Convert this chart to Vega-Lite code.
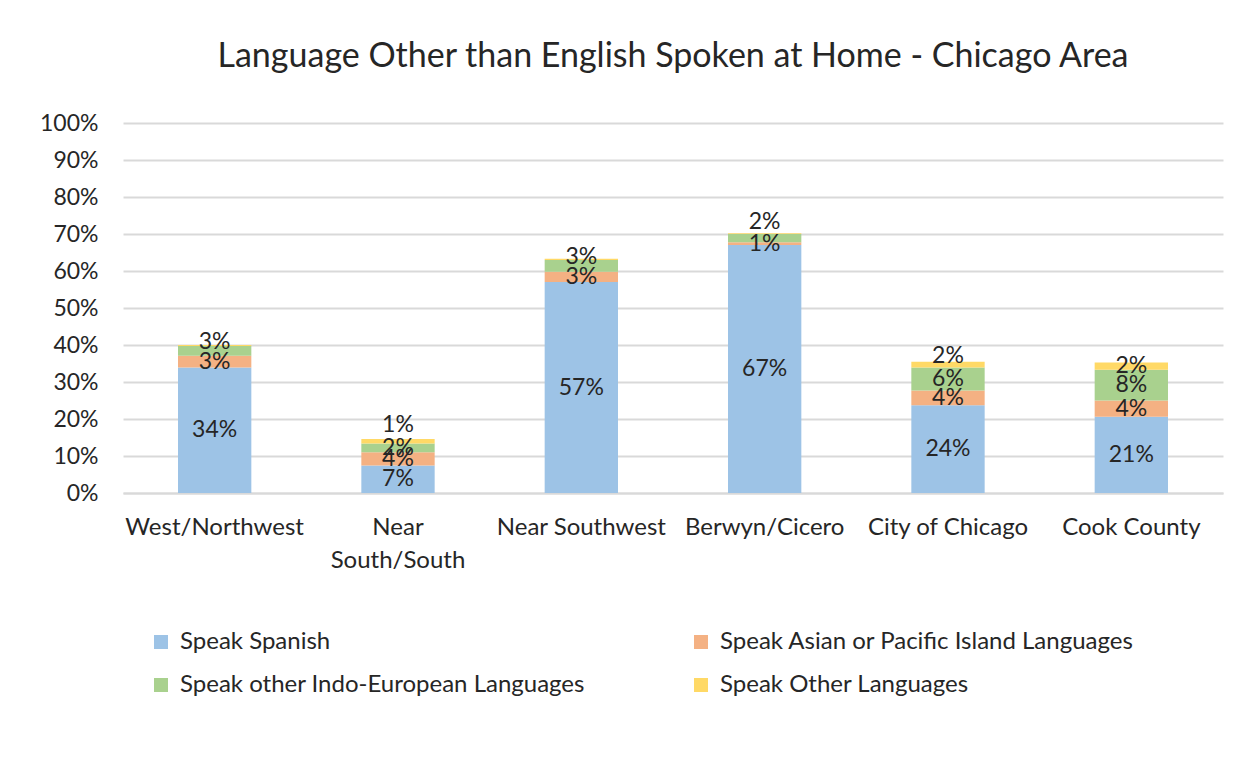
{
  "$schema": "https://vega.github.io/schema/vega-lite/v6.json",
  "width": 1100,
  "height": 370,
  "autosize": {"type": "none"},
  "padding": {"left": 123, "top": 123, "right": 21, "bottom": 271},
  "background": "white",
  "title": {
    "text": "Language Other than English Spoken at Home - Chicago Area",
    "font": "Lato",
    "fontSize": 34,
    "fontWeight": "normal",
    "color": "#262626",
    "anchor": "middle",
    "offset": 38
  },
  "data": {
    "values": [
      {"region": "West/Northwest", "series": "Speak Spanish", "k": 1, "value": 0.339},
      {"region": "West/Northwest", "series": "Speak Asian or Pacific Island Languages", "k": 2, "value": 0.032},
      {"region": "West/Northwest", "series": "Speak other Indo-European Languages", "k": 3, "value": 0.026},
      {"region": "West/Northwest", "series": "Speak Other Languages", "k": 4, "value": 0.003},
      {"region": "Near South/South", "series": "Speak Spanish", "k": 1, "value": 0.074},
      {"region": "Near South/South", "series": "Speak Asian or Pacific Island Languages", "k": 2, "value": 0.036},
      {"region": "Near South/South", "series": "Speak other Indo-European Languages", "k": 3, "value": 0.024},
      {"region": "Near South/South", "series": "Speak Other Languages", "k": 4, "value": 0.012},
      {"region": "Near Southwest", "series": "Speak Spanish", "k": 1, "value": 0.570},
      {"region": "Near Southwest", "series": "Speak Asian or Pacific Island Languages", "k": 2, "value": 0.028},
      {"region": "Near Southwest", "series": "Speak other Indo-European Languages", "k": 3, "value": 0.032},
      {"region": "Near Southwest", "series": "Speak Other Languages", "k": 4, "value": 0.003},
      {"region": "Berwyn/Cicero", "series": "Speak Spanish", "k": 1, "value": 0.670},
      {"region": "Berwyn/Cicero", "series": "Speak Asian or Pacific Island Languages", "k": 2, "value": 0.008},
      {"region": "Berwyn/Cicero", "series": "Speak other Indo-European Languages", "k": 3, "value": 0.022},
      {"region": "Berwyn/Cicero", "series": "Speak Other Languages", "k": 4, "value": 0.002},
      {"region": "City of Chicago", "series": "Speak Spanish", "k": 1, "value": 0.237},
      {"region": "City of Chicago", "series": "Speak Asian or Pacific Island Languages", "k": 2, "value": 0.040},
      {"region": "City of Chicago", "series": "Speak other Indo-European Languages", "k": 3, "value": 0.062},
      {"region": "City of Chicago", "series": "Speak Other Languages", "k": 4, "value": 0.016},
      {"region": "Cook County", "series": "Speak Spanish", "k": 1, "value": 0.206},
      {"region": "Cook County", "series": "Speak Asian or Pacific Island Languages", "k": 2, "value": 0.044},
      {"region": "Cook County", "series": "Speak other Indo-European Languages", "k": 3, "value": 0.083},
      {"region": "Cook County", "series": "Speak Other Languages", "k": 4, "value": 0.020}
    ]
  },
  "transform": [
    {"stack": "value", "groupby": ["region"], "sort": [{"field": "k", "order": "ascending"}], "as": ["v0", "v1"]},
    {"calculate": "(datum.v0 + datum.v1) / 2", "as": "mid"}
  ],
  "encoding": {
    "x": {
      "field": "region",
      "type": "nominal",
      "sort": null,
      "scale": {"paddingInner": 0.6, "paddingOuter": 0.3},
      "axis": {
        "title": null,
        "labelAngle": 0,
        "labelFont": "Lato",
        "labelFontSize": 24,
        "labelColor": "#262626",
        "labelPadding": 22,
        "labelLineHeight": 33,
        "labelBaseline": "top",
        "labelExpr": "datum.label == 'Near South/South' ? ['Near', 'South/South'] : datum.label",
        "ticks": false,
        "tickSize": 0,
        "domain": true,
        "domainColor": "#D9D9D9",
        "domainWidth": 2,
        "grid": false
      }
    },
    "y": {
      "field": "mid",
      "type": "quantitative",
      "scale": {"domain": [0, 1]},
      "axis": {
        "title": null,
        "values": [0, 0.1, 0.2, 0.3, 0.4, 0.5, 0.6, 0.7, 0.8, 0.9, 1],
        "format": ".0%",
        "labelOverlap": false,
        "labelSeparation": 0,
        "labelFont": "Lato",
        "labelFontSize": 23,
        "labelColor": "#262626",
        "labelPadding": 25,
        "ticks": false,
        "tickSize": 0,
        "domain": false,
        "grid": true,
        "gridColor": "#D9D9D9",
        "gridWidth": 2
      }
    },
    "text": {"field": "value", "type": "quantitative", "format": ".0%"}
  },
  "layer": [
    {
      "mark": {"type": "bar"},
      "encoding": {
        "y": {
          "field": "v0",
          "type": "quantitative",
          "scale": {"domain": [0, 1]},
          "axis": {
            "title": null,
            "values": [0, 0.1, 0.2, 0.3, 0.4, 0.5, 0.6, 0.7, 0.8, 0.9, 1],
            "format": ".0%",
            "labelOverlap": false,
            "labelSeparation": 0,
            "labelFont": "Lato",
            "labelFontSize": 23,
            "labelColor": "#262626",
            "labelPadding": 25,
            "ticks": false,
            "tickSize": 0,
            "domain": false,
            "grid": true,
            "gridColor": "#D9D9D9",
            "gridWidth": 2
          }
        },
        "y2": {"field": "v1"},
        "text": null,
        "color": {
          "field": "series",
          "type": "nominal",
          "sort": ["Speak Spanish", "Speak Asian or Pacific Island Languages", "Speak other Indo-European Languages", "Speak Other Languages"],
          "scale": {
            "domain": ["Speak Spanish", "Speak Asian or Pacific Island Languages", "Speak other Indo-European Languages", "Speak Other Languages"],
            "range": ["#9DC3E6", "#F4B183", "#A9D18E", "#FFD966"]
          },
          "legend": {
            "title": null,
            "orient": "none",
            "legendX": 26,
            "legendY": 507,
            "direction": "horizontal",
            "columns": 2,
            "columnPadding": 104,
            "rowPadding": 19,
            "symbolType": "square",
            "symbolSize": 196,
            "symbolStrokeWidth": 0,
            "symbolOpacity": 1,
            "labelFont": "Lato",
            "labelFontSize": 24,
            "labelColor": "#262626",
            "labelOffset": 7,
            "labelLimit": 600
          }
        }
      }
    },
    {
      "transform": [
        {"filter": "datum.value >= 0.005"},
        {"joinaggregate": [{"op": "max", "field": "k", "as": "topk"}], "groupby": ["region"]},
        {"filter": "datum.k < datum.topk"}
      ],
      "mark": {"type": "text", "font": "Lato", "fontSize": 23, "color": "#262626", "baseline": "middle", "align": "center"}
    },
    {
      "transform": [
        {"filter": "datum.value >= 0.005"},
        {"joinaggregate": [{"op": "max", "field": "k", "as": "topk"}], "groupby": ["region"]},
        {"window": [{"op": "lag", "field": "mid", "as": "prevMid"}], "groupby": ["region"], "sort": [{"field": "k", "order": "ascending"}]},
        {"filter": "datum.k == datum.topk && datum.mid - datum.prevMid < 0.02"}
      ],
      "mark": {"type": "text", "font": "Lato", "fontSize": 23, "color": "#262626", "baseline": "middle", "align": "center", "dy": -16}
    },
    {
      "transform": [
        {"filter": "datum.value >= 0.005"},
        {"joinaggregate": [{"op": "max", "field": "k", "as": "topk"}], "groupby": ["region"]},
        {"window": [{"op": "lag", "field": "mid", "as": "prevMid"}], "groupby": ["region"], "sort": [{"field": "k", "order": "ascending"}]},
        {"filter": "datum.k == datum.topk && datum.mid - datum.prevMid >= 0.02 && datum.mid - datum.prevMid < 0.045"}
      ],
      "mark": {"type": "text", "font": "Lato", "fontSize": 23, "color": "#262626", "baseline": "middle", "align": "center", "dy": -9}
    },
    {
      "transform": [
        {"filter": "datum.value >= 0.005"},
        {"joinaggregate": [{"op": "max", "field": "k", "as": "topk"}], "groupby": ["region"]},
        {"window": [{"op": "lag", "field": "mid", "as": "prevMid"}], "groupby": ["region"], "sort": [{"field": "k", "order": "ascending"}]},
        {"filter": "datum.k == datum.topk && datum.mid - datum.prevMid >= 0.045"}
      ],
      "mark": {"type": "text", "font": "Lato", "fontSize": 23, "color": "#262626", "baseline": "middle", "align": "center"}
    }
  ],
  "config": {
    "view": {"stroke": null},
    "axisY": {"labelOverlap": false}
  }
}
